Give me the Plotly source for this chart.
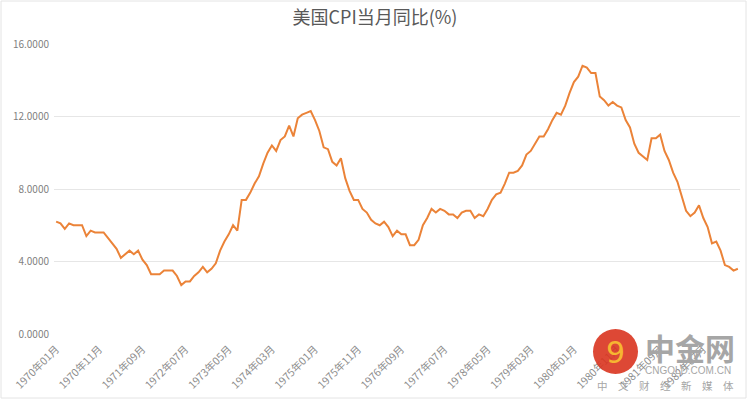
import plotly.graph_objects as go

years = list(range(1970, 1984))
cpi_1970 = [6.2, 6.1, 5.8, 6.1, 6.0, 6.0, 6.0, 5.4, 5.7, 5.6, 5.6, 5.6]
cpi_1971 = [5.3, 5.0, 4.7, 4.2, 4.4, 4.6, 4.4, 4.6, 4.1, 3.8, 3.3, 3.3]
cpi_1972 = [3.3, 3.5, 3.5, 3.5, 3.2, 2.7, 2.9, 2.9, 3.2, 3.4, 3.7, 3.4]
cpi_1973 = [3.6, 3.9, 4.6, 5.1, 5.5, 6.0, 5.7, 7.4, 7.4, 7.8, 8.3, 8.7]
cpi_1974 = [9.4, 10.0, 10.4, 10.1, 10.7, 10.9, 11.5, 10.9, 11.9, 12.1, 12.2, 12.3]
cpi_1975 = [11.8, 11.2, 10.3, 10.2, 9.5, 9.3, 9.7, 8.6, 7.9, 7.4, 7.4, 6.9]
cpi_1976 = [6.7, 6.3, 6.1, 6.0, 6.2, 5.9, 5.4, 5.7, 5.5, 5.5, 4.9, 4.9]
cpi_1977 = [5.2, 6.0, 6.4, 6.9, 6.7, 6.9, 6.8, 6.6, 6.6, 6.4, 6.7, 6.8]
cpi_1978 = [6.8, 6.4, 6.6, 6.5, 6.9, 7.4, 7.7, 7.8, 8.3, 8.9, 8.9, 9.0]
cpi_1979 = [9.3, 9.9, 10.1, 10.5, 10.9, 10.9, 11.3, 11.8, 12.2, 12.1, 12.6, 13.3]
cpi_1980 = [13.9, 14.2, 14.8, 14.7, 14.4, 14.4, 13.1, 12.9, 12.6, 12.8, 12.6, 12.5]
cpi_1981 = [11.8, 11.4, 10.5, 10.0, 9.8, 9.6, 10.8, 10.8, 11.0, 10.1, 9.6, 8.9]
cpi_1982 = [8.4, 7.6, 6.8, 6.5, 6.7, 7.1, 6.4, 5.9, 5.0, 5.1, 4.6, 3.8]
cpi_1983 = [3.7, 3.5, 3.6]

values = (cpi_1970 + cpi_1971 + cpi_1972 + cpi_1973 + cpi_1974 + cpi_1975 +
          cpi_1976 + cpi_1977 + cpi_1978 + cpi_1979 + cpi_1980 + cpi_1981 +
          cpi_1982 + cpi_1983)

months = []
for y in years:
    for m in range(1, 13):
        months.append(f"{y}年{m:02d}月")
months = months[:len(values)]

tick_labels = months[::10]
y_ticks = [0, 4, 8, 12, 16]

W, H = 750, 401
L, R, T, B = 54, 10, 44, 67
pw, ph = W - L - R, H - T - B

def px(x):
    return (x - L) / pw

def py(y):
    return (H - B - y) / ph

fig = go.Figure()
fig.add_trace(go.Scatter(
    x=months, y=values, mode="lines",
    line=dict(color="#EB8338", width=2),
    hoverinfo="x+y", showlegend=False,
))

fig.update_layout(
    width=W, height=H,
    margin=dict(l=L, r=R, t=T, b=B),
    paper_bgcolor="white", plot_bgcolor="white",
    font=dict(family="Noto Sans CJK SC, Noto Sans, sans-serif", color="#8c8c8c"),
    title=dict(text="美国CPI当月同比(%)", x=0.5, xanchor="center", y=1 - 18 / H,
               yanchor="middle",
               font=dict(size=18, color="#595959",
                         family="Noto Sans CJK SC, sans-serif")),
    xaxis=dict(
        type="category", range=[-0.5, len(values) - 0.5],
        tickmode="array", tickvals=tick_labels, ticktext=tick_labels,
        tickangle=-45, tickfont=dict(size=10.5, color="#8c8c8c"),
        ticklabelstandoff=6,
        showgrid=False, showline=False, zeroline=False, ticks="",
        automargin=False,
    ),
    yaxis=dict(
        range=[0, 16], tickmode="array", tickvals=y_ticks,
        tickformat=".4f", tickfont=dict(size=10, color="#7f7f7f"),
        ticklabelstandoff=4,
        showgrid=True, gridcolor="#e6e6e6", gridwidth=1,
        zeroline=False, showline=False, ticks="", automargin=False,
    ),
)

# outer frame of the chart picture
fig.add_shape(type="rect", xref="paper", yref="paper",
              x0=px(1), x1=px(746), y0=py(398), y1=py(1),
              line=dict(color="#e4e4e4", width=1), layer="below")

# watermark logo
fig.add_shape(type="circle", xref="paper", yref="paper",
              x0=px(593), x1=px(638), y0=py(374), y1=py(329),
              line=dict(width=0), fillcolor="#D9341F", opacity=0.9)
fig.add_annotation(xref="paper", yref="paper", x=px(615), y=py(352),
                   text="9", showarrow=False,
                   font=dict(size=30, color="#F6B531", family="DejaVu Sans"),
                   xanchor="center", yanchor="middle")
fig.add_annotation(xref="paper", yref="paper", x=px(690), y=py(347),
                   text="<b>中金网</b>", showarrow=False,
                   font=dict(size=30, color="#a6a6a6", family="Noto Sans CJK SC"),
                   xanchor="center", yanchor="middle")
fig.add_annotation(xref="paper", yref="paper", x=px(688), y=py(370),
                   text="CNGOLD.COM.CN", showarrow=False,
                   font=dict(size=10, color="#a6a6a6", family="Liberation Sans"),
                   xanchor="center", yanchor="middle")
fig.add_annotation(xref="paper", yref="paper", x=px(665), y=py(385),
                   text="中　文　财　经　新　媒　体", showarrow=False,
                   font=dict(size=10.5, color="#a6a6a6", family="Noto Sans CJK SC"),
                   xanchor="center", yanchor="middle")

fig.write_html("out.html",
               config={"displayModeBar": False},
               post_script="document.body.style.margin='0';"
                           "document.body.style.padding='0';"
                           "document.body.style.overflow='hidden';")
